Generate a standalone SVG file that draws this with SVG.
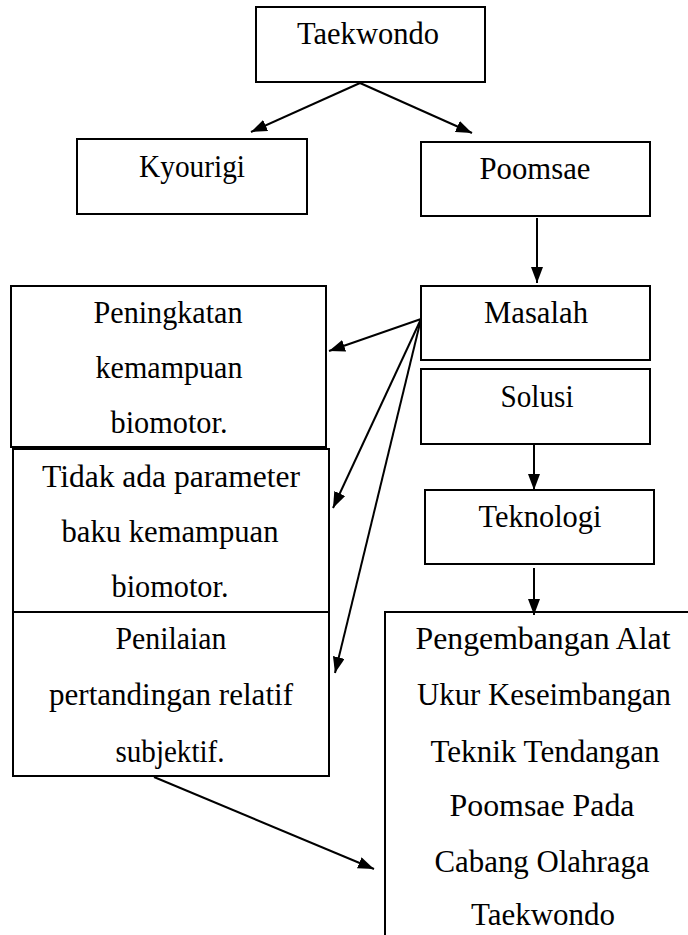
<svg xmlns="http://www.w3.org/2000/svg" width="688" height="935" viewBox="0 0 688 935">
<defs>
<style>
.box{fill:#fff;stroke:#000;stroke-width:2}
text{font-family:'Liberation Serif','Times New Roman',Times,serif;font-size:31px;fill:#000;text-anchor:middle}
.c{stroke:#000;stroke-width:2;fill:none}
</style>
<marker id="ah" viewBox="0 0 16 12" refX="16" refY="6" markerWidth="16" markerHeight="12" markerUnits="userSpaceOnUse" orient="auto">
<path d="M0,0 L16,6 L0,12 z" fill="#000"/>
</marker>
</defs>
<rect width="688" height="935" fill="#fff"/>
<g id="taekwondo"><rect class="box" x="256" y="7" width="229" height="75"/><text x="368" y="44" textLength="142" lengthAdjust="spacingAndGlyphs">Taekwondo</text></g>
<g id="kyourigi"><rect class="box" x="77" y="139" width="230" height="75"/><text x="192" y="177" textLength="106" lengthAdjust="spacingAndGlyphs">Kyourigi</text></g>
<g id="poomsae"><rect class="box" x="421" y="142" width="229" height="74"/><text x="535" y="179" textLength="111" lengthAdjust="spacingAndGlyphs">Poomsae</text></g>
<g id="masalah"><rect class="box" x="421" y="286" width="229" height="74"/><text x="536" y="323" textLength="104" lengthAdjust="spacingAndGlyphs">Masalah</text></g>
<g id="solusi"><rect class="box" x="421" y="369" width="229" height="75"/><text x="537" y="407" textLength="73" lengthAdjust="spacingAndGlyphs">Solusi</text></g>
<g id="teknologi"><rect class="box" x="425" y="490" width="229" height="74"/><text x="540" y="527" textLength="123" lengthAdjust="spacingAndGlyphs">Teknologi</text></g>
<g id="peningkatan"><rect class="box" x="11" y="286" width="315" height="161"/>
<text x="168" y="323" textLength="149" lengthAdjust="spacingAndGlyphs">Peningkatan</text>
<text x="169" y="378" textLength="147" lengthAdjust="spacingAndGlyphs">kemampuan</text>
<text x="169" y="433" textLength="117" lengthAdjust="spacingAndGlyphs">biomotor.</text></g>
<g id="tidak"><rect class="box" x="13" y="449" width="316" height="163"/>
<text x="171" y="487" textLength="258" lengthAdjust="spacingAndGlyphs">Tidak ada parameter</text>
<text x="170" y="542" textLength="217" lengthAdjust="spacingAndGlyphs">baku kemampuan</text>
<text x="170" y="597" textLength="117" lengthAdjust="spacingAndGlyphs">biomotor.</text></g>
<g id="penilaian"><rect class="box" x="13" y="612" width="316" height="164"/>
<text x="171" y="649" textLength="111" lengthAdjust="spacingAndGlyphs">Penilaian</text>
<text x="171" y="705" textLength="244" lengthAdjust="spacingAndGlyphs">pertandingan relatif</text>
<text x="170" y="762" textLength="109" lengthAdjust="spacingAndGlyphs">subjektif.</text></g>
<g id="pengembangan"><rect class="box" x="385" y="612" width="320" height="340"/>
<text x="543" y="649" textLength="255" lengthAdjust="spacingAndGlyphs">Pengembangan Alat</text>
<text x="544" y="705" textLength="254" lengthAdjust="spacingAndGlyphs">Ukur Keseimbangan</text>
<text x="545" y="762" textLength="229" lengthAdjust="spacingAndGlyphs">Teknik Tendangan</text>
<text x="542" y="816" textLength="185" lengthAdjust="spacingAndGlyphs">Poomsae Pada</text>
<text x="542" y="872" textLength="215" lengthAdjust="spacingAndGlyphs">Cabang Olahraga</text>
<text x="543" y="925" textLength="144" lengthAdjust="spacingAndGlyphs">Taekwondo</text></g>
<g id="connectors">
<line class="c" x1="360" y1="83" x2="251" y2="132" marker-end="url(#ah)"/>
<line class="c" x1="360" y1="83" x2="472" y2="133" marker-end="url(#ah)"/>
<line class="c" x1="537" y1="218" x2="537" y2="283" marker-end="url(#ah)"/>
<line class="c" x1="421" y1="319" x2="329" y2="351" marker-end="url(#ah)"/>
<line class="c" x1="421" y1="319" x2="333" y2="508" marker-end="url(#ah)"/>
<line class="c" x1="421" y1="319" x2="335" y2="673" marker-end="url(#ah)"/>
<line class="c" x1="534" y1="444" x2="534" y2="490" marker-end="url(#ah)"/>
<line class="c" x1="534" y1="568" x2="534" y2="615" marker-end="url(#ah)"/>
<line class="c" x1="154" y1="777" x2="374" y2="869" marker-end="url(#ah)"/>
</g>
</svg>
